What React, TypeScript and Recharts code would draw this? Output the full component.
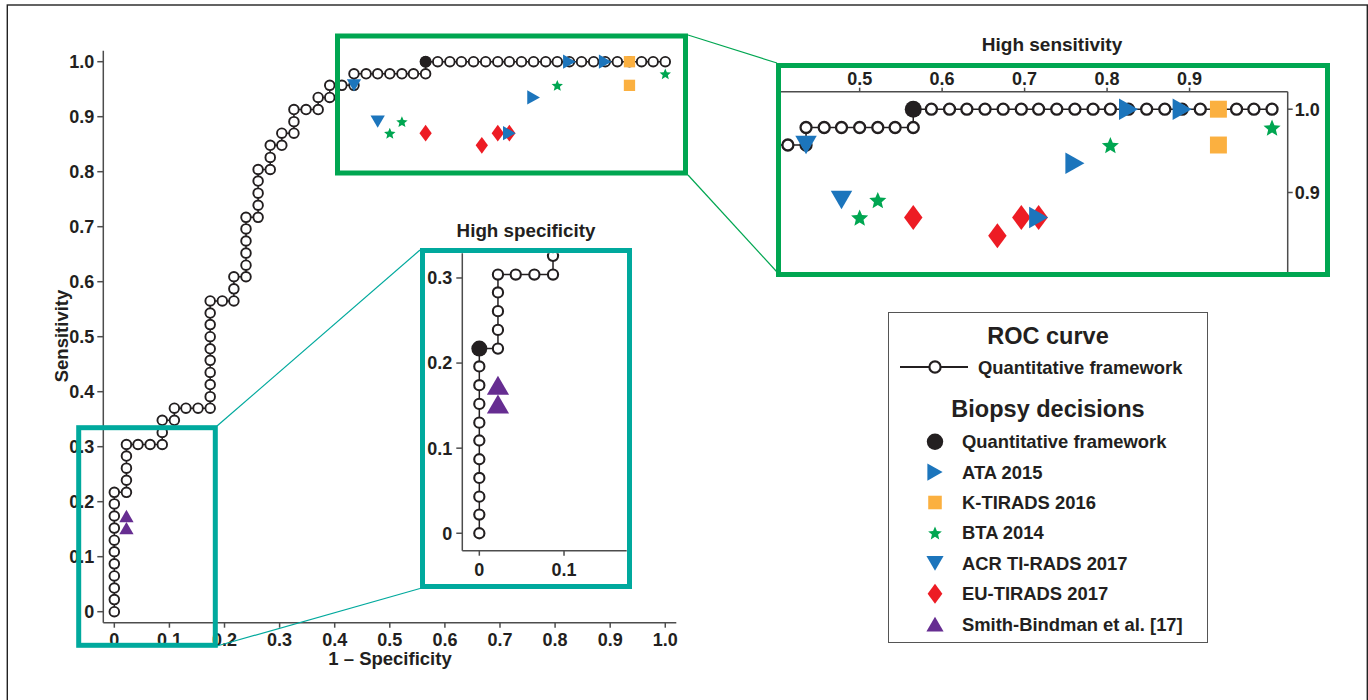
import { ScatterChart, Scatter, XAxis, YAxis, Label } from "recharts";

const FONT = "'Liberation Sans', Arial, Helvetica, sans-serif";
const INK = "#231F20";
const AXIS = "#4D4D4D";
const BLUE = "#1C75BC";
const ORANGE = "#FBB040";
const GREEN = "#00A651";
const RED = "#ED1C24";
const PURPLE = "#662D91";
const TEAL = "#00A99D";

// ROC operating points, [1 - specificity, sensitivity]
const ROC_CURVE = [
  [0, 0], [0, 0.022], [0, 0.043], [0, 0.065], [0, 0.087], [0, 0.109],
  [0, 0.13], [0, 0.152], [0, 0.174], [0, 0.196], [0, 0.217],
  [0.022, 0.217], [0.022, 0.239], [0.022, 0.261], [0.022, 0.283], [0.022, 0.304],
  [0.043, 0.304], [0.065, 0.304], [0.087, 0.304], [0.087, 0.326], [0.087, 0.348],
  [0.109, 0.348], [0.109, 0.37], [0.13, 0.37], [0.152, 0.37], [0.174, 0.37],
  [0.174, 0.391], [0.174, 0.413], [0.174, 0.435], [0.174, 0.457], [0.174, 0.478],
  [0.174, 0.5], [0.174, 0.522], [0.174, 0.543], [0.174, 0.565],
  [0.196, 0.565], [0.217, 0.565], [0.217, 0.587], [0.217, 0.609],
  [0.239, 0.609], [0.239, 0.63], [0.239, 0.652], [0.239, 0.674], [0.239, 0.696], [0.239, 0.717],
  [0.261, 0.717], [0.261, 0.739], [0.261, 0.761], [0.261, 0.783], [0.261, 0.804],
  [0.283, 0.804], [0.283, 0.826], [0.283, 0.848],
  [0.304, 0.848], [0.304, 0.87],
  [0.326, 0.87], [0.326, 0.891], [0.326, 0.913],
  [0.348, 0.913], [0.37, 0.913], [0.37, 0.935],
  [0.391, 0.935], [0.391, 0.957],
  [0.413, 0.957], [0.435, 0.957], [0.435, 0.978],
  [0.457, 0.978], [0.478, 0.978], [0.5, 0.978], [0.522, 0.978], [0.543, 0.978], [0.565, 0.978],
  [0.565, 1], [0.587, 1], [0.609, 1], [0.63, 1], [0.652, 1], [0.674, 1], [0.696, 1],
  [0.717, 1], [0.739, 1], [0.761, 1], [0.783, 1], [0.804, 1], [0.826, 1], [0.848, 1],
  [0.87, 1], [0.891, 1], [0.913, 1], [0.935, 1], [0.957, 1], [0.978, 1], [1, 1],
];

// biopsy decisions
const QF_SENS = [[0.565, 1]];
const QF_SPEC = [[0, 0.217]];
const ATA_2015 = [[0.717, 0.87], [0.761, 0.935], [0.826, 1], [0.891, 1]];
const K_TIRADS_2016 = [[0.935, 1], [0.935, 0.957]];
const BTA_2014 = [[0.5, 0.87], [0.522, 0.891], [0.804, 0.957], [1, 0.978]];
const ACR_TIRADS_2017 = [[0.435, 0.957], [0.478, 0.891]];
const EU_TIRADS_2017 = [[0.565, 0.87], [0.667, 0.848], [0.696, 0.87], [0.717, 0.87]];
const SMITH_BINDMAN = [[0.022, 0.174], [0.022, 0.152]];

const LEGEND_NAMES = [
  "Quantitative framework",
  "ATA 2015",
  "K-TIRADS 2016",
  "BTA 2014",
  "ACR TI-RADS 2017",
  "EU-TIRADS 2017",
  "Smith-Bindman et al. [17]",
];
const LEGEND_KINDS = ["dot", "right", "square", "star", "down", "diamond", "up"];

const MAIN_TICKS = [0, 0.1, 0.2, 0.3, 0.4, 0.5, 0.6, 0.7, 0.8, 0.9, 1];
const SENS_X_TICKS = [0.5, 0.6, 0.7, 0.8, 0.9];
const SENS_Y_TICKS = [0.9, 1];
const SPEC_X_TICKS = [0, 0.1];
const SPEC_Y_TICKS = [0, 0.1, 0.2, 0.3];

const toXY = (pts: number[][]) => pts.map(([x, y]) => ({ x, y }));
const fmt = (v: number) => (v === 0 ? "0" : v.toFixed(1));

const tickStyle = { fill: INK, fontSize: 18, fontWeight: 700, fontFamily: FONT };
const axisStroke = { stroke: AXIS, strokeWidth: 1.5 };

interface Size {
  k: number;
  r: number;
  sw: number;
  dot: number;
}

function Marker({ kind, cx, cy, s }: { kind: string; cx: number; cy: number; s: Size }) {
  const k = s.k;
  if (kind === "open")
    return <circle cx={cx} cy={cy} r={s.r} fill="#fff" stroke={INK} strokeWidth={s.sw} />;
  if (kind === "dot") return <circle cx={cx} cy={cy} r={s.dot} fill={INK} />;
  if (kind === "square") {
    const a = 11.3 * k;
    return <rect x={cx - a / 2} y={cy - a / 2} width={a} height={a} fill={ORANGE} />;
  }
  if (kind === "right") {
    const w = 12.7 * k, h = 14.3 * k;
    return (
      <polygon
        points={`${cx - w / 2},${cy - h / 2} ${cx + w / 2},${cy} ${cx - w / 2},${cy + h / 2}`}
        fill={BLUE}
      />
    );
  }
  if (kind === "down" || kind === "up") {
    const w = 14.3 * k, h = 12.3 * k;
    const d = kind === "down" ? 1 : -1;
    return (
      <polygon
        points={`${cx - w / 2},${cy - (d * h) / 2} ${cx + w / 2},${cy - (d * h) / 2} ${cx},${cy + (d * h) / 2}`}
        fill={kind === "down" ? BLUE : PURPLE}
      />
    );
  }
  if (kind === "diamond") {
    const w = 12.3 * k, h = 16.7 * k;
    return (
      <polygon
        points={`${cx},${cy - h / 2} ${cx + w / 2},${cy} ${cx},${cy + h / 2} ${cx - w / 2},${cy}`}
        fill={RED}
      />
    );
  }
  // star
  const R = 6 * k, ri = R * 0.45;
  const pts: string[] = [];
  for (let i = 0; i < 10; i++) {
    const a = -Math.PI / 2 + (i * Math.PI) / 5;
    const rr = i % 2 === 0 ? R : ri;
    pts.push(`${cx + rr * Math.cos(a)},${cy + rr * Math.sin(a) + 0.6 * k}`);
  }
  return <polygon points={pts.join(" ")} fill={GREEN} />;
}

const shapeOf = (kind: string, s: Size) => (p: any) => (
  <Marker kind={kind} cx={p.cx} cy={p.cy} s={s} />
);

const MAIN_SIZE: Size = { k: 1, r: 4.8, sw: 1.9, dot: 6 };
const SENS_SIZE: Size = { k: 1.5, r: 5.5, sw: 2.3, dot: 8.5 };
const SPEC_SIZE: Size = { k: 1.55, r: 5.1, sw: 2.1, dot: 8 };
const LEGEND_SIZE: Size = { k: 1.2, r: 5.6, sw: 2.2, dot: 8.2 };

// same draw order in every panel: curve first, then the rules on top
function series(s: Size, qf: number[][]) {
  return [
    <Scatter key="roc" data={toXY(ROC_CURVE)} line={{ stroke: INK, strokeWidth: 1.5 }} shape={shapeOf("open", s)} isAnimationActive={false} />,
    <Scatter key="eu" data={toXY(EU_TIRADS_2017)} shape={shapeOf("diamond", s)} isAnimationActive={false} />,
    <Scatter key="bta" data={toXY(BTA_2014)} shape={shapeOf("star", s)} isAnimationActive={false} />,
    <Scatter key="acr" data={toXY(ACR_TIRADS_2017)} shape={shapeOf("down", s)} isAnimationActive={false} />,
    <Scatter key="kt" data={toXY(K_TIRADS_2016)} shape={shapeOf("square", s)} isAnimationActive={false} />,
    <Scatter key="ata" data={toXY(ATA_2015)} shape={shapeOf("right", s)} isAnimationActive={false} />,
    <Scatter key="sb" data={toXY(SMITH_BINDMAN)} shape={shapeOf("up", s)} isAnimationActive={false} />,
    <Scatter key="qf" data={toXY(qf)} shape={shapeOf("dot", s)} isAnimationActive={false} />,
  ];
}

const titleStyle = { fontFamily: FONT, fontWeight: 700, fill: INK } as const;

export default function App() {
  return (
    <div style={{ position: "absolute", left: 0, top: 0, width: 1368, height: 700, background: "#fff", fontFamily: FONT }}>
      {/* main ROC plot */}
      <div style={{ position: "absolute", left: 0, top: 0 }}>
        <ScatterChart width={700} height={700} margin={{ top: 50.7, right: 23.7, bottom: 37.3, left: 0 }}>
          <XAxis type="number" dataKey="x" domain={[-0.02, 1.02]} allowDataOverflow ticks={MAIN_TICKS} interval={0}
            tickFormatter={fmt} height={40} tickSize={5} tickMargin={6} axisLine={axisStroke} tickLine={axisStroke} tick={tickStyle}>
            <Label content={() => (
              <text x={390} y={665} textAnchor="middle" fontSize={18.5} {...titleStyle}>1 – Specificity</text>
            )} />
          </XAxis>
          <YAxis type="number" dataKey="y" domain={[-0.02, 1.02]} allowDataOverflow ticks={MAIN_TICKS} interval={0}
            tickFormatter={fmt} width={103.3} tickSize={6} tickMargin={3} axisLine={axisStroke} tickLine={axisStroke} tick={tickStyle}>
            <Label content={() => (
              <text x={68} y={336} transform="rotate(-90 68 336)" textAnchor="middle" fontSize={18.5} {...titleStyle}>Sensitivity</text>
            )} />
          </YAxis>
          {series(MAIN_SIZE, QF_SENS)}
        </ScatterChart>
      </div>

      {/* high specificity inset */}
      <div style={{ position: "absolute", left: 400, top: 240 }}>
        <ScatterChart width={240} height={340} margin={{ top: 13.3, right: 13.3, bottom: 0, left: 0 }}>
          <XAxis type="number" dataKey="x" domain={[-0.0201, 0.174]} allowDataOverflow ticks={SPEC_X_TICKS} interval={0}
            tickFormatter={fmt} height={29.3} tickSize={5} tickMargin={8} axisLine={axisStroke} tickLine={axisStroke} tick={tickStyle} />
          <YAxis type="number" dataKey="y" domain={[-0.0205, 0.329]} allowDataOverflow ticks={SPEC_Y_TICKS} interval={0}
            tickFormatter={fmt} width={62.3} tickSize={6} tickMargin={4} axisLine={axisStroke} tickLine={axisStroke} tick={tickStyle} />
          {series(SPEC_SIZE, QF_SPEC)}
        </ScatterChart>
      </div>

      {/* high sensitivity inset */}
      <div style={{ position: "absolute", left: 760, top: 40 }}>
        <ScatterChart width={600} height={250} margin={{ top: 21.7, right: 22.3, bottom: 16.7, left: 18 }}>
          <XAxis type="number" dataKey="x" orientation="top" domain={[0.401, 1.019]} allowDataOverflow ticks={SENS_X_TICKS} interval={0}
            tickFormatter={fmt} height={30} tickSize={4} tickMargin={3} axisLine={axisStroke} tickLine={axisStroke} tick={tickStyle} />
          <YAxis type="number" dataKey="y" orientation="right" domain={[0.803, 1.021]} allowDataOverflow ticks={SENS_Y_TICKS} interval={0}
            tickFormatter={fmt} width={50} tickSize={5} tickMargin={2} axisLine={axisStroke} tickLine={axisStroke} tick={tickStyle} />
          {series(SENS_SIZE, QF_SENS)}
        </ScatterChart>
      </div>

      {/* frames, zoom connectors, titles and legend */}
      <svg width={1368} height={700} style={{ position: "absolute", left: 0, top: 0, pointerEvents: "none" }}>
        <rect x={7.3} y={5} width={1360} height={720} fill="none" stroke="#222" strokeWidth={1.4} />

        <rect x={78.7} y={427.7} width={136.6} height={217.6} fill="none" stroke={TEAL} strokeWidth={5} />
        <rect x={422.5} y={250.5} width={207} height={336} fill="none" stroke={TEAL} strokeWidth={5} />
        <line x1={217} y1={426} x2={420} y2={250} stroke={TEAL} strokeWidth={1.2} />
        <line x1={217} y1={646} x2={420} y2={588.5} stroke={TEAL} strokeWidth={1.2} />

        <rect x={337.5} y={36} width={348} height={137} fill="none" stroke={GREEN} strokeWidth={5} />
        <rect x={778.5} y={65.5} width={549} height={209} fill="none" stroke={GREEN} strokeWidth={5} />
        <line x1={688} y1={35} x2={777} y2={63} stroke={GREEN} strokeWidth={1.2} />
        <line x1={688} y1={175} x2={777} y2={272} stroke={GREEN} strokeWidth={1.2} />

        <text x={526} y={237} textAnchor="middle" fontSize={18.8} {...titleStyle}>High specificity</text>
        <text x={1052} y={51} textAnchor="middle" fontSize={19} {...titleStyle}>High sensitivity</text>

        <rect x={888.5} y={312.5} width={319} height={330} fill="none" stroke="#555" strokeWidth={1} />
        <text x={1048} y={343.5} textAnchor="middle" fontSize={23.5} {...titleStyle}>ROC curve</text>
        <line x1={900} x2={968} y1={367} y2={367} stroke={INK} strokeWidth={2} />
        <Marker kind="open" cx={935} cy={367} s={LEGEND_SIZE} />
        <text x={978} y={373.5} fontSize={18.4} {...titleStyle}>Quantitative framework</text>
        <text x={1048} y={416.5} textAnchor="middle" fontSize={23.5} {...titleStyle}>Biopsy decisions</text>
        {LEGEND_NAMES.map((name, i) => {
          const cy = 441.7 + i * 30.4;
          return (
            <g key={name}>
              <Marker kind={LEGEND_KINDS[i]} cx={935} cy={cy} s={LEGEND_SIZE} />
              <text x={962} y={cy + 6.5} fontSize={18.4} {...titleStyle}>{name}</text>
            </g>
          );
        })}
      </svg>
    </div>
  );
}
